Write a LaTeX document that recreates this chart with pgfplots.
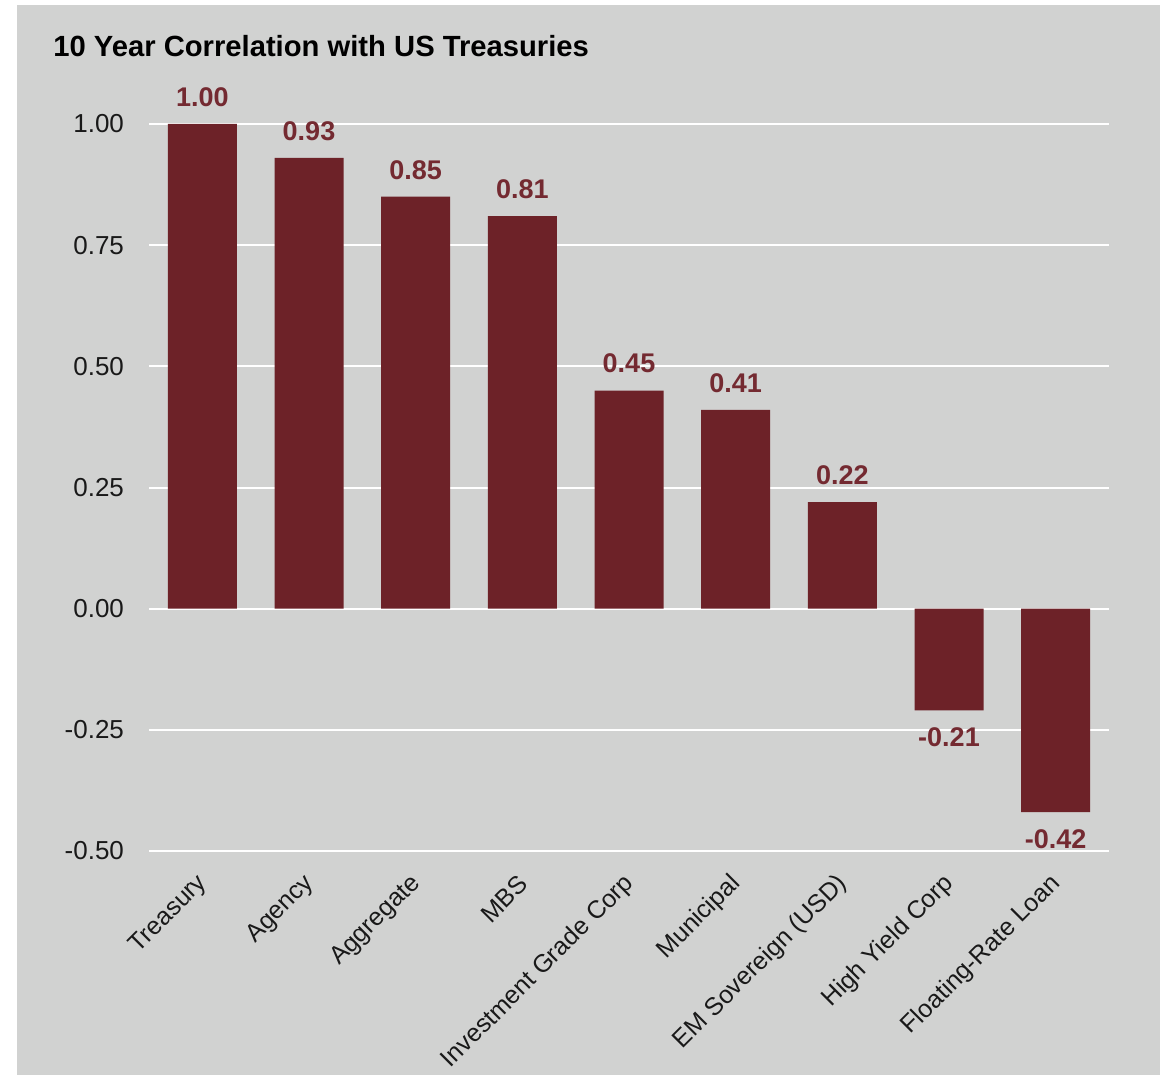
\documentclass[border=0pt]{standalone}
\usepackage{pgfplots}
\pgfplotsset{compat=1.18}
\usepackage{fontspec}
\setmainfont{Liberation Sans}
\definecolor{bg}{HTML}{D1D2D1}
\definecolor{barc}{HTML}{6D2228}
\definecolor{lblc}{HTML}{742A31}
\begin{document}
\begin{tikzpicture}
\fill[white] (0,0) rectangle (582.5pt,537.5pt);
\fill[bg] (8.5pt,0) rectangle (580pt,535pt);
\node[anchor=base west, inner sep=0pt, font=\bfseries\fontsize{14.6}{18}\selectfont] at (26.5pt,509pt) {10 Year Correlation with US Treasuries};
\begin{axis}[
  at={(74.5pt,112pt)}, anchor=south west,
  scale only axis, width=480pt, height=363.5pt,
  xmin=-0.5, xmax=8.5, ymin=-0.5, ymax=1,
  clip=false,
  axis line style={draw=none},
  major tick length=0pt,
  ytick={-0.5,-0.25,0,0.25,0.5,0.75,1},
  ymajorgrids, grid style={white, line width=1pt},
  xtick={0,1,2,3,4,5,6,7,8},
  xticklabels={Treasury, Agency, Aggregate, MBS, Investment Grade Corp, Municipal, EM Sovereign (USD), High Yield Corp, Floating-Rate Loan},
  yticklabel style={font=\fontsize{13}{15}\selectfont, text=black!90, xshift=-9pt,
    /pgf/number format/.cd, fixed, fixed zerofill, precision=2, assume math mode=true},
  xticklabel style={font=\fontsize{12.5}{15}\selectfont, text=black!90, yshift=-12pt, xshift=3pt, rotate=45, anchor=east},
  ybar, bar width=34.5pt,
  nodes near coords, nodes near coords align={vertical},
  every node near coord/.append style={font=\bfseries\fontsize{13.5}{16}\selectfont, text=lblc, inner sep=8.5pt,
    /pgf/number format/.cd, fixed, fixed zerofill, precision=2, assume math mode=true},
]
\addplot[fill=barc, draw=none] coordinates {(0,1.00) (1,0.93) (2,0.85) (3,0.81) (4,0.45) (5,0.41) (6,0.22) (7,-0.21) (8,-0.42)};
\end{axis}
\end{tikzpicture}
\end{document}
